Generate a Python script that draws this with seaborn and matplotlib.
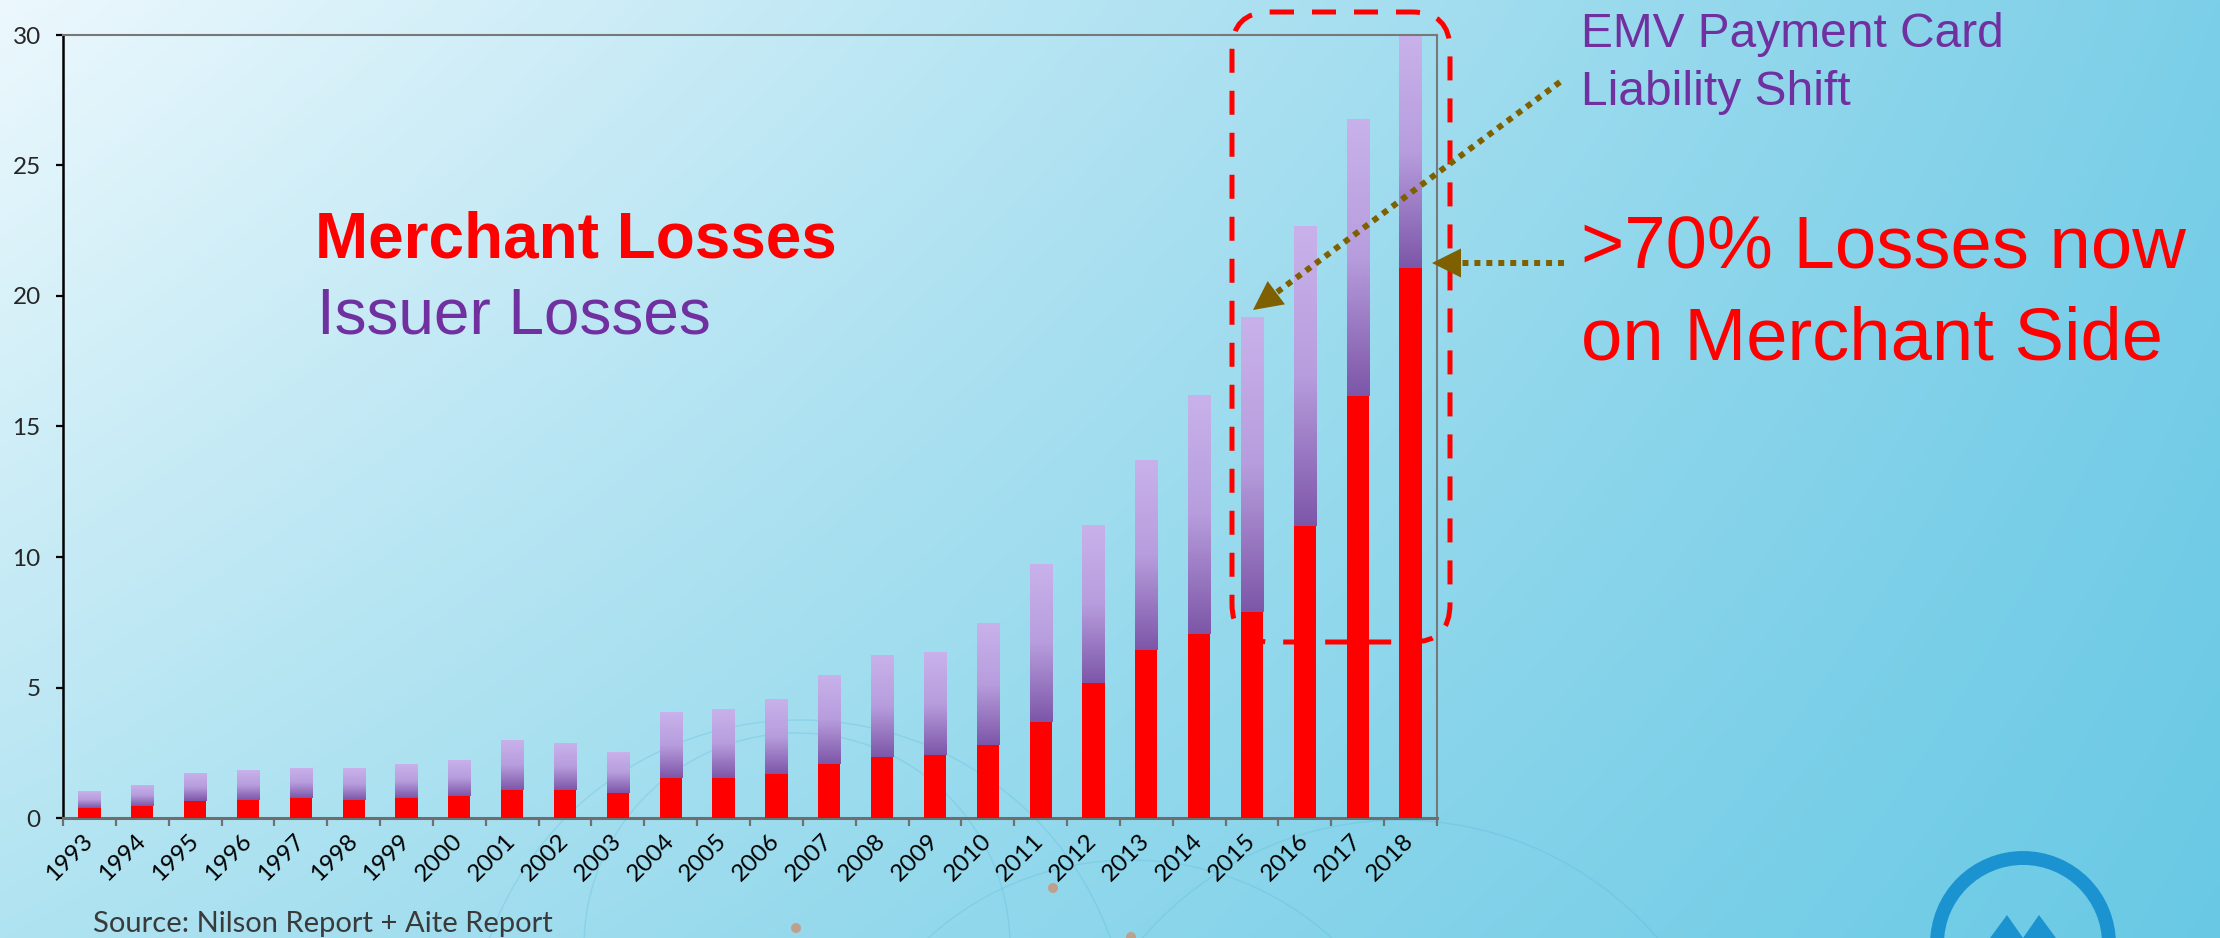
import numpy as np
import matplotlib
matplotlib.use("Agg")
import matplotlib.pyplot as plt
import seaborn as sns
from matplotlib.patches import FancyBboxPatch, Polygon, Circle
from matplotlib.colors import LinearSegmentedColormap, to_rgb

# ---------------- data ----------------
years = [str(y) for y in range(1993, 2019)]
total_losses = [1.02, 1.28, 1.74, 1.82, 1.93, 1.90, 2.05, 2.24, 3.00, 2.89,
                2.51, 4.07, 4.19, 4.57, 5.48, 6.25, 6.36, 7.47, 9.72, 11.23,
                13.70, 16.22, 19.20, 22.68, 26.78, 29.95]
merchant_losses = [0.38, 0.46, 0.64, 0.69, 0.76, 0.69, 0.76, 0.84, 1.09, 1.09,
                   0.94, 1.55, 1.55, 1.70, 2.05, 2.35, 2.43, 2.81, 3.69, 5.18,
                   6.43, 7.04, 7.88, 11.18, 16.16, 21.08]
y_ticks = [0, 5, 10, 15, 20, 25, 30]

legend_merchant = "Merchant Losses"
legend_issuer = "Issuer Losses"
note_emv = ["EMV Payment Card", "Liability Shift"]
note_share = [">70% Losses now", "on Merchant Side"]
source_text = "Source: Nilson Report + Aite Report"

# ---------------- style ----------------
sns.set_style("white")
plt.rcParams["font.family"] = ["Lato", "DejaVu Sans"]

W, H, DPI = 2220, 938, 100
fig = plt.figure(figsize=(W / DPI, H / DPI), dpi=DPI)

RED = "#ff0000"
PURPLE = "#7030a0"
OLIVE = "#7f6000"

# ---------------- background ----------------
bg = fig.add_axes([0, 0, 1, 1], zorder=0)
xx = np.linspace(0, 1, 440)
yy = np.linspace(0, 1, 190)
X, Y = np.meshgrid(xx, yy)
tl, tr, bl, br = [np.array(to_rgb(c)) for c in ("#ecf8fd", "#7ccfe8", "#b0e3f1", "#69c9e5")]
X3, Y3 = X[..., None], Y[..., None]
img = tl * (1 - X3) * (1 - Y3) + tr * X3 * (1 - Y3) + bl * (1 - X3) * Y3 + br * X3 * Y3
bg.imshow(img, extent=(0, W, H, 0), aspect="auto", interpolation="bilinear")
bg.set_xlim(0, W)
bg.set_ylim(H, 0)
bg.axis("off")
# faint decorative network arcs and nodes
for (cx, cy, r) in [(797, 946, 213), (800, 1050, 330), (1400, 1160, 340), (1130, 1160, 300)]:
    bg.add_patch(Circle((cx, cy), r, fill=False, ec="#4fb3d6", lw=1.0, alpha=0.25))
for (cx, cy) in [(1053, 888), (796, 928), (1131, 937)]:
    bg.add_patch(Circle((cx, cy), 5, fc="#c49a82", ec="none", alpha=0.9))
# logo ring
bg.add_patch(Circle((2023, 944), 86, fill=False, ec="#1b93d1", lw=10))
bg.add_patch(Polygon([(1990, 938), (2007, 915), (2023, 938)], closed=True, fc="#1b93d1", ec="none"))
bg.add_patch(Polygon([(2023, 938), (2039, 915), (2056, 938)], closed=True, fc="#1b93d1", ec="none"))

# ---------------- chart ----------------
ax = fig.add_axes([63 / W, 1 - 818 / H, (1437 - 63) / W, (818 - 35) / H], zorder=2)
ax.patch.set_alpha(0)

sns.barplot(x=years, y=total_losses, color="#c8b0ea", width=0.42, saturation=1,
            linewidth=0, ax=ax)
total_patches = list(ax.patches)
sns.barplot(x=years, y=merchant_losses, color=RED, width=0.42, saturation=1,
            linewidth=0, ax=ax)
merchant_patches = ax.patches[len(total_patches):]
for p in merchant_patches:
    p.set_zorder(3)

cmap = LinearSegmentedColormap.from_list("issuer", ["#c9b2eb", "#b79ddd", "#7d56a8"], N=256)
grad = np.linspace(0, 1, 256).reshape(-1, 1)
for p, m in zip(total_patches, merchant_losses):
    x0, w, top = p.get_x(), p.get_width(), p.get_height()
    im = ax.imshow(grad, cmap=cmap, extent=(x0, x0 + w, m, top), aspect="auto",
                   origin="upper", zorder=2, interpolation="bilinear")
    im.set_clip_path(p)

ax.set_xlim(-0.5, len(years) - 0.5)
ax.set_ylim(0, 30)
ax.set_yticks(y_ticks)
ax.set_xticks(np.arange(-0.5, len(years), 1.0), minor=True)
ax.set_xlabel("")
ax.set_ylabel("")

ax.tick_params(axis="x", which="major", length=0, pad=14, labelsize=17.5,
               labelrotation=45, labelcolor="black")
ax.tick_params(axis="x", which="minor", length=5.5, width=1.6, color="#707070",
               direction="out", bottom=True)
ax.tick_params(axis="y", which="major", length=5, width=1.6, color="black",
               direction="out", left=True, labelsize=17.5, pad=11)
plt.setp(ax.get_xticklabels(), ha="right", va="center", rotation_mode="anchor")

for side in ["top", "right"]:
    ax.spines[side].set_visible(True)
    ax.spines[side].set_color("#787878")
    ax.spines[side].set_linewidth(1.5)
ax.spines["left"].set_color("black")
ax.spines["left"].set_linewidth(1.8)
ax.spines["bottom"].set_color("#6e6e6e")
ax.spines["bottom"].set_linewidth(2.2)
ax.grid(False)

# ---------------- annotations overlay ----------------
ov = fig.add_axes([0, 0, 1, 1], zorder=5)
ov.set_xlim(0, W)
ov.set_ylim(H, 0)
ov.axis("off")
ov.patch.set_alpha(0)

sans = ["Liberation Sans", "DejaVu Sans"]
ov.text(315, 257, legend_merchant, color=RED, fontsize=46, fontweight="bold",
        family=sans, va="baseline", ha="left")
ov.text(317, 333, legend_issuer, color=PURPLE, fontsize=46, family=sans,
        va="baseline", ha="left")
ov.text(1581, 47, note_emv[0], color=PURPLE, fontsize=34.5, family=sans, va="baseline")
ov.text(1581, 105, note_emv[1], color=PURPLE, fontsize=34.5, family=sans, va="baseline")
ov.text(1581, 268, note_share[0], color=RED, fontsize=53.5, family=sans, va="baseline")
ov.text(1581, 360, note_share[1], color=RED, fontsize=53.5, family=sans, va="baseline")
ov.text(93, 932, source_text, color="#3a3a3a", fontsize=21, family=["Lato", "DejaVu Sans"],
        va="baseline")

# dashed rounded highlight box
ov.add_patch(FancyBboxPatch((1232, 12), 1450 - 1232, 642 - 12,
                            boxstyle="round,pad=0,rounding_size=38", fill=False,
                            ec=RED, lw=3.6, linestyle=(0, (4.8, 3.6))))


def dotted_arrow(tail, tip, L=29, hw=14.5):
    tail = np.asarray(tail, float)
    tip = np.asarray(tip, float)
    u = (tip - tail) / np.hypot(*(tip - tail))
    v = np.array([-u[1], u[0]])
    base = tip - u * L
    ov.plot([tail[0], base[0]], [tail[1], base[1]], color=OLIVE, lw=4.3,
            linestyle=(0, (1, 1)), solid_capstyle="butt", dash_capstyle="butt")
    ov.add_patch(Polygon([tip, base + v * hw, base - v * hw], closed=True,
                         fc=OLIVE, ec="none"))


dotted_arrow((1560, 82), (1253, 310))
dotted_arrow((1564, 263), (1432, 263))

fig.savefig("out.png", dpi=DPI)
